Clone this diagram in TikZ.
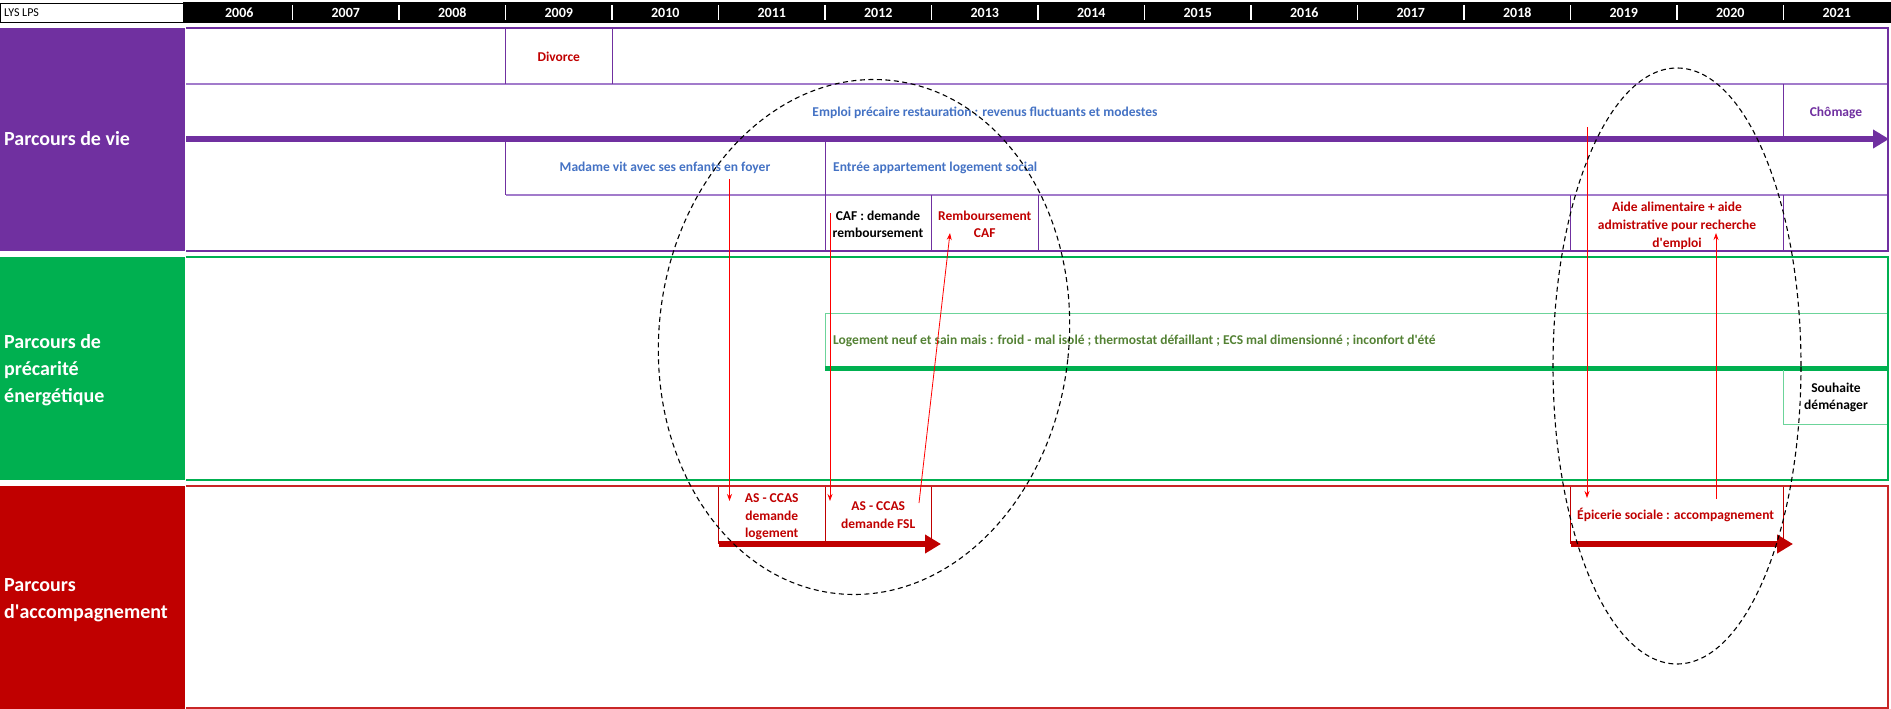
\documentclass[tikz,border=0pt]{standalone}
\usepackage{fontspec}
\setmainfont{Carlito}
\usetikzlibrary{arrows.meta}
\definecolor{vio}{HTML}{7030A0}
\definecolor{vioclair}{HTML}{A27BCB}
\definecolor{vert}{HTML}{00B050}
\definecolor{vertclair}{HTML}{6CD49A}
\definecolor{olive}{HTML}{548235}
\definecolor{bordeaux}{HTML}{C00000}
\definecolor{vif}{HTML}{FF0000}
\definecolor{bleu}{HTML}{4472C4}
\begin{document}
\begin{tikzpicture}[x=1pt,y=-1pt,
  txt/.style={font=\bfseries\fontsize{13.5}{17}\selectfont, inner sep=0pt, align=center},
  annee/.style={text=white, font=\bfseries\fontsize{14}{14}\selectfont, inner sep=0pt},
  rubrique/.style={text=white, font=\bfseries\fontsize{20}{27}\selectfont, align=left, anchor=west, inner sep=0pt},
  filet/.style={vioclair, line width=1.2pt},
  trait/.style={line width=0.9pt},
  lien/.style={vif, line width=0.8pt, -{Stealth[length=7pt,width=5pt]}},
  axe/.style={line width=6.5pt, -{Triangle[length=16pt,width=18pt]}},
  bulle/.style={black, dash pattern=on 5pt off 3.5pt, line width=1.1pt},
]
\useasboundingbox (0,0) rectangle (1891,709);

% ---- year header ----
\node[draw=black, line width=0.6pt, fill=white, minimum width=183pt, minimum height=19pt,
      anchor=north west, inner sep=0pt] (lys) at (0,3) {};
\node[anchor=west, font=\fontsize{12}{12}\selectfont, inner sep=0pt] (lystxt) at (4,12.5) {LYS LPS};
\fill[black] (183,2) rectangle (1891,23);
\foreach \k [evaluate=\k as \xm using 186+106.5*\k+53.25,
             evaluate=\k as \an using int(2006+\k)] in {0,...,15}
  \node[annee] (y\an) at (\xm,13) {\an};
\foreach \k [evaluate=\k as \xs using 186+106.5*\k] in {1,...,15}
  \draw[white, line width=1.5pt] (\xs,5) -- (\xs,20);

% ---- section labels ----
\fill[vio] (0,28) rectangle (185,251);
\node[rubrique] (lvie) at (4,139) {Parcours de vie};
\fill[vert] (0,257) rectangle (185,480);
\node[rubrique] (lprec) at (4,370) {Parcours de\\précarité\\énergétique};
\fill[bordeaux] (0,486) rectangle (185,709);
\node[rubrique] (lacc) at (4,600) {Parcours\\d\textquotesingle accompagnement};

% ---- life course ----
\draw[filet] (186,84) -- (1888,84);
\draw[filet] (505.5,195) -- (1888,195);
\begin{scope}[vio, trait]
  \draw (505.5,28) -- (505.5,84) (612,28) -- (612,84);
  \draw (1783.5,84) -- (1783.5,139);
  \draw (505.5,139) -- (505.5,195);
  \draw (825,139) -- (825,251);
  \draw (931.5,195) -- (931.5,251) (1038,195) -- (1038,251);
  \draw (1570.5,195) -- (1570.5,251) (1783.5,195) -- (1783.5,251);
\end{scope}
\draw[vio, line width=2.2pt] (186,28) -- (1888,28) -- (1888,251) -- (186,251);
\draw[vio, axe] (186,139) -- (1889,139);

\node[txt, text=bordeaux] (divorce) at (558.75,57) {Divorce};
\node[txt, text=bleu] (emploi) at (985,113) {Emploi précaire restauration : revenus fluctuants et modestes};
\node[txt, text=vio] (chomage) at (1836,113) {Chômage};
\node[txt, text=bleu] (foyer) at (665,168) {Madame vit avec ses enfants en foyer};
\node[txt, text=bleu, anchor=west] (logsocial) at (833,168) {Entrée appartement logement social};
\node[txt, text=black] (caf) at (878,224) {CAF : demande\\remboursement};
\node[txt, text=bordeaux] (rembours) at (984.75,224) {Remboursement\\CAF};
\node[txt, text=bordeaux, font=\bfseries\fontsize{13.5}{18}\selectfont] (aide) at (1677,226)
  {Aide alimentaire + aide\\admistrative pour recherche\\d\textquotesingle emploi};

% ---- fuel poverty ----
\draw[vertclair, trait] (1888,313) -- (825,313) -- (825,368);
\draw[vert, line width=5pt] (825,368) -- (1888,368);
\node[txt, text=olive, anchor=west] (logement) at (833,341)
  {Logement neuf et sain mais : froid - mal isolé ; thermostat défaillant ; ECS mal dimensionné ; inconfort d\textquotesingle été};
\draw[vertclair, trait] (1783.5,370) -- (1783.5,424) -- (1888,424);
\node[txt, text=black] (demenager) at (1836,397) {Souhaite\\déménager};
\draw[vert, line width=2.2pt] (186,257) -- (1888,257) -- (1888,480) -- (186,480);

% ---- social support ----
\begin{scope}[bordeaux, trait]
  \draw (718.5,486) -- (718.5,544) (825,486) -- (825,544) (931.5,486) -- (931.5,544);
  \draw (1570.5,486) -- (1570.5,544) (1783.5,486) -- (1783.5,544);
\end{scope}
\node[txt, text=bordeaux, font=\bfseries\fontsize{13.5}{17.5}\selectfont] (ascas1) at (771.75,517) {AS - CCAS\\demande\\logement};
\node[txt, text=bordeaux, font=\bfseries\fontsize{13.5}{17.5}\selectfont] (ascas2) at (878.25,515) {AS - CCAS\\demande FSL};
\node[txt, text=bordeaux, anchor=west] (epicerie) at (1577,515) {Épicerie sociale : accompagnement};
\draw[bordeaux, axe, line width=6pt] (718.5,544) -- (941,544);
\draw[bordeaux, axe, line width=6pt] (1570.5,544) -- (1793,544);
\draw[bordeaux!85!white, line width=1.5pt] (186,486) -- (1888,486) -- (1888,708) -- (186,708);

% ---- links between courses ----
\coordinate (fa) at (729.5,179);  \coordinate (fb) at (729.5,501);
\coordinate (ca) at (830,213);    \coordinate (cb) at (830,501);
\coordinate (ra) at (919,503);    \coordinate (rb) at (950,233);
\coordinate (ea) at (1587,127);   \coordinate (eb) at (1587,498);
\coordinate (aa) at (1716,499);   \coordinate (ab) at (1716,233);
\draw[lien] (fa) -- (fb);
\draw[lien] (ca) -- (cb);
\draw[lien] (ra) -- (rb);
\draw[lien] (ea) -- (eb);
\draw[lien] (aa) -- (ab);

% ---- highlighted periods ----
\draw[bulle, rotate around={-6:(864,337)}] (864,337) ellipse [x radius=205pt, y radius=258pt];
\draw[bulle] (1677,366) ellipse [x radius=124pt, y radius=298pt];
\end{tikzpicture}
\end{document}
